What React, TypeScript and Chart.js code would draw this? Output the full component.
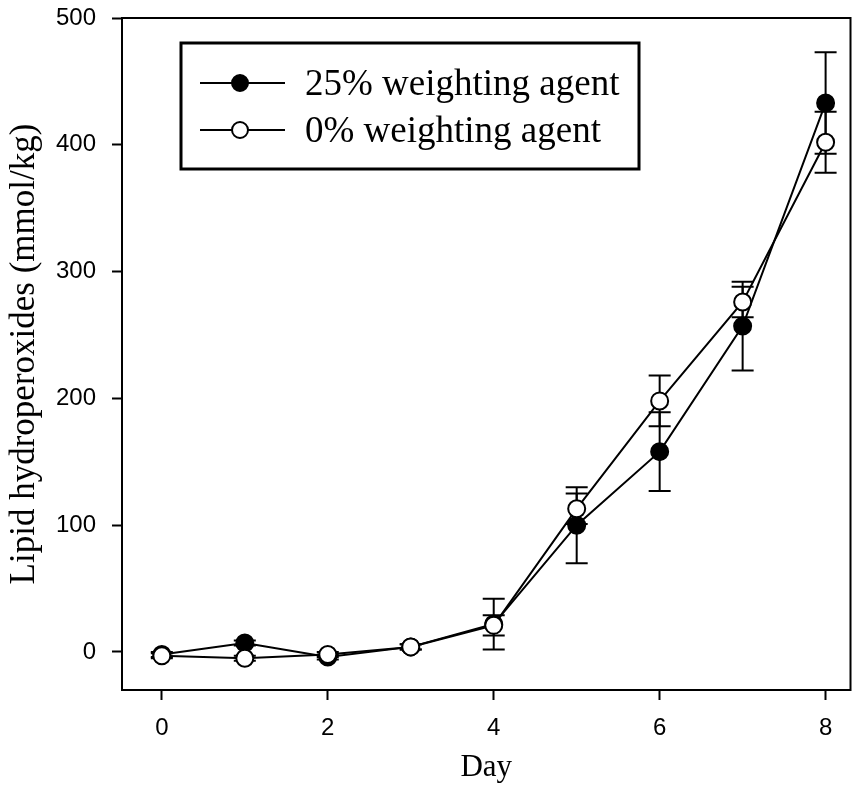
import React, { useEffect, useRef } from "react";
import { Chart, registerables } from "chart.js";

Chart.register(...registerables);

const days = [0, 1, 2, 3, 4, 5, 6, 7, 8];
const filledVals = [-2, 7, -4, 4, 22, 100, 158, 257, 433];
const filledErr = [2, 2, 2, 2, 20, 30, 31, 35, 40];
const openVals = [-3, -5, -2, 4, 21, 113, 198, 276, 402];
const openErr = [2, 2, 2, 2, 8, 12, 20, 12, 24];
const xTicks = [0, 2, 4, 6, 8];
const yTicks = [0, 100, 200, 300, 400, 500];
const seriesNames = ["25% weighting agent", "0% weighting agent"];

const serif = "'Times New Roman', 'Liberation Serif', serif";
const sans = "Arial, 'Liberation Sans', sans-serif";

const errorBarPlugin = {
  id: "errorBars",
  beforeDatasetsDraw(chart: any) {
    const ctx = chart.ctx;
    const ys = chart.scales.y;
    const errs = [filledErr, openErr];
    ctx.save();
    ctx.strokeStyle = "#000";
    ctx.lineWidth = 2;
    chart.data.datasets.forEach((ds: any, i: number) => {
      const meta = chart.getDatasetMeta(i);
      meta.data.forEach((pt: any, j: number) => {
        const v = ds.data[j].y;
        const e = errs[i][j];
        const yTop = ys.getPixelForValue(v + e);
        const yBot = ys.getPixelForValue(v - e);
        const x = pt.x;
        ctx.beginPath();
        ctx.moveTo(x, yTop);
        ctx.lineTo(x, yBot);
        ctx.moveTo(x - 11, yTop);
        ctx.lineTo(x + 11, yTop);
        ctx.moveTo(x - 11, yBot);
        ctx.lineTo(x + 11, yBot);
        ctx.stroke();
      });
    });
    ctx.restore();
  },
};

const framePlugin = {
  id: "frame",
  afterDraw(chart: any) {
    const { ctx, chartArea } = chart;
    const { left, top, right, bottom } = chartArea;
    ctx.save();
    ctx.strokeStyle = "#000";
    ctx.lineWidth = 2;
    ctx.strokeRect(left, top, right - left, bottom - top);

    // legend box
    const bx = left + 59;
    const by = top + 25;
    const bw = 458;
    const bh = 126;
    ctx.lineWidth = 3;
    ctx.strokeRect(bx, by, bw, bh);
    const rows = [by + 40, by + 87];
    rows.forEach((ry, i) => {
      ctx.lineWidth = 2;
      ctx.beginPath();
      ctx.moveTo(bx + 19, ry);
      ctx.lineTo(bx + 104, ry);
      ctx.stroke();
      ctx.beginPath();
      ctx.arc(bx + 59, ry, 8, 0, Math.PI * 2);
      ctx.fillStyle = i === 0 ? "#000" : "#fff";
      ctx.fill();
      ctx.stroke();
      ctx.fillStyle = "#000";
      ctx.font = `37px ${serif}`;
      ctx.textBaseline = "alphabetic";
      ctx.textAlign = "left";
      ctx.fillText(seriesNames[i], bx + 124, ry + 12);
    });
    ctx.restore();
  },
};

export default function App() {
  const ref = useRef<HTMLCanvasElement>(null);
  useEffect(() => {
    if (!ref.current) return;
    const chart = new Chart(ref.current, {
      type: "line",
      data: {
        datasets: [
          {
            label: seriesNames[0],
            data: days.map((d, i) => ({ x: d, y: filledVals[i] })),
            borderColor: "#000",
            borderWidth: 2,
            backgroundColor: "#000",
            pointBackgroundColor: "#000",
            pointBorderColor: "#000",
            pointRadius: 8.5,
            pointBorderWidth: 2,
            order: 2,
            tension: 0,
          },
          {
            label: seriesNames[1],
            data: days.map((d, i) => ({ x: d, y: openVals[i] })),
            borderColor: "#000",
            borderWidth: 2,
            backgroundColor: "#fff",
            pointBackgroundColor: "#fff",
            pointBorderColor: "#000",
            pointRadius: 8.5,
            pointBorderWidth: 2,
            order: 1,
            tension: 0,
          },
        ],
      },
      options: {
        animation: false,
        responsive: false,
        maintainAspectRatio: false,
        layout: { padding: { top: 18, right: 2, left: 0, bottom: 0 } },
        plugins: {
          legend: { display: false },
          tooltip: { enabled: false },
        },
        scales: {
          x: {
            type: "linear",
            min: -0.48,
            max: 8.3,
            afterBuildTicks: (s: any) => {
              s.ticks = xTicks.map((v) => ({ value: v }));
            },
            afterFit: (s: any) => {
              s.height = 99;
              s.paddingLeft = 0;
              s.paddingRight = 0;
            },
            ticks: {
              color: "#000",
              font: { family: sans, size: 24 },
              padding: 14,
              maxRotation: 0,
            },
            grid: {
              display: true,
              drawOnChartArea: false,
              drawTicks: true,
              tickLength: 10,
              tickWidth: 2,
              color: "#000",
            },
            border: { display: true, color: "#000", width: 2 },
            title: {
              display: true,
              text: "Day",
              color: "#000",
              font: { family: serif, size: 31 },
              padding: { top: 0, bottom: 3 },
            },
          },
          y: {
            type: "linear",
            min: -30,
            max: 500,
            afterBuildTicks: (s: any) => {
              s.ticks = yTicks.map((v) => ({ value: v }));
            },
            afterFit: (s: any) => {
              s.width = 122;
              s.paddingTop = 0;
              s.paddingBottom = 0;
            },
            ticks: {
              color: "#000",
              font: { family: sans, size: 24 },
              padding: 16,
            },
            grid: {
              display: true,
              drawOnChartArea: false,
              drawTicks: true,
              tickLength: 10,
              tickWidth: 2,
              color: "#000",
            },
            border: { display: true, color: "#000", width: 2 },
            title: {
              display: true,
              text: "Lipid hydroperoxides (mmol/kg)",
              color: "#000",
              font: { family: serif, size: 35 },
              padding: { top: 4, bottom: 0 },
            },
          },
        },
      },
      plugins: [errorBarPlugin, framePlugin],
    } as any);
    return () => chart.destroy();
  }, []);
  return (
    <div style={{ position: "fixed", left: 0, top: 0, width: 857, height: 789, overflow: "hidden", background: "#fff" }}>
      <canvas ref={ref} width={861} height={789} style={{ width: 861, height: 789 }} />
    </div>
  );
}
